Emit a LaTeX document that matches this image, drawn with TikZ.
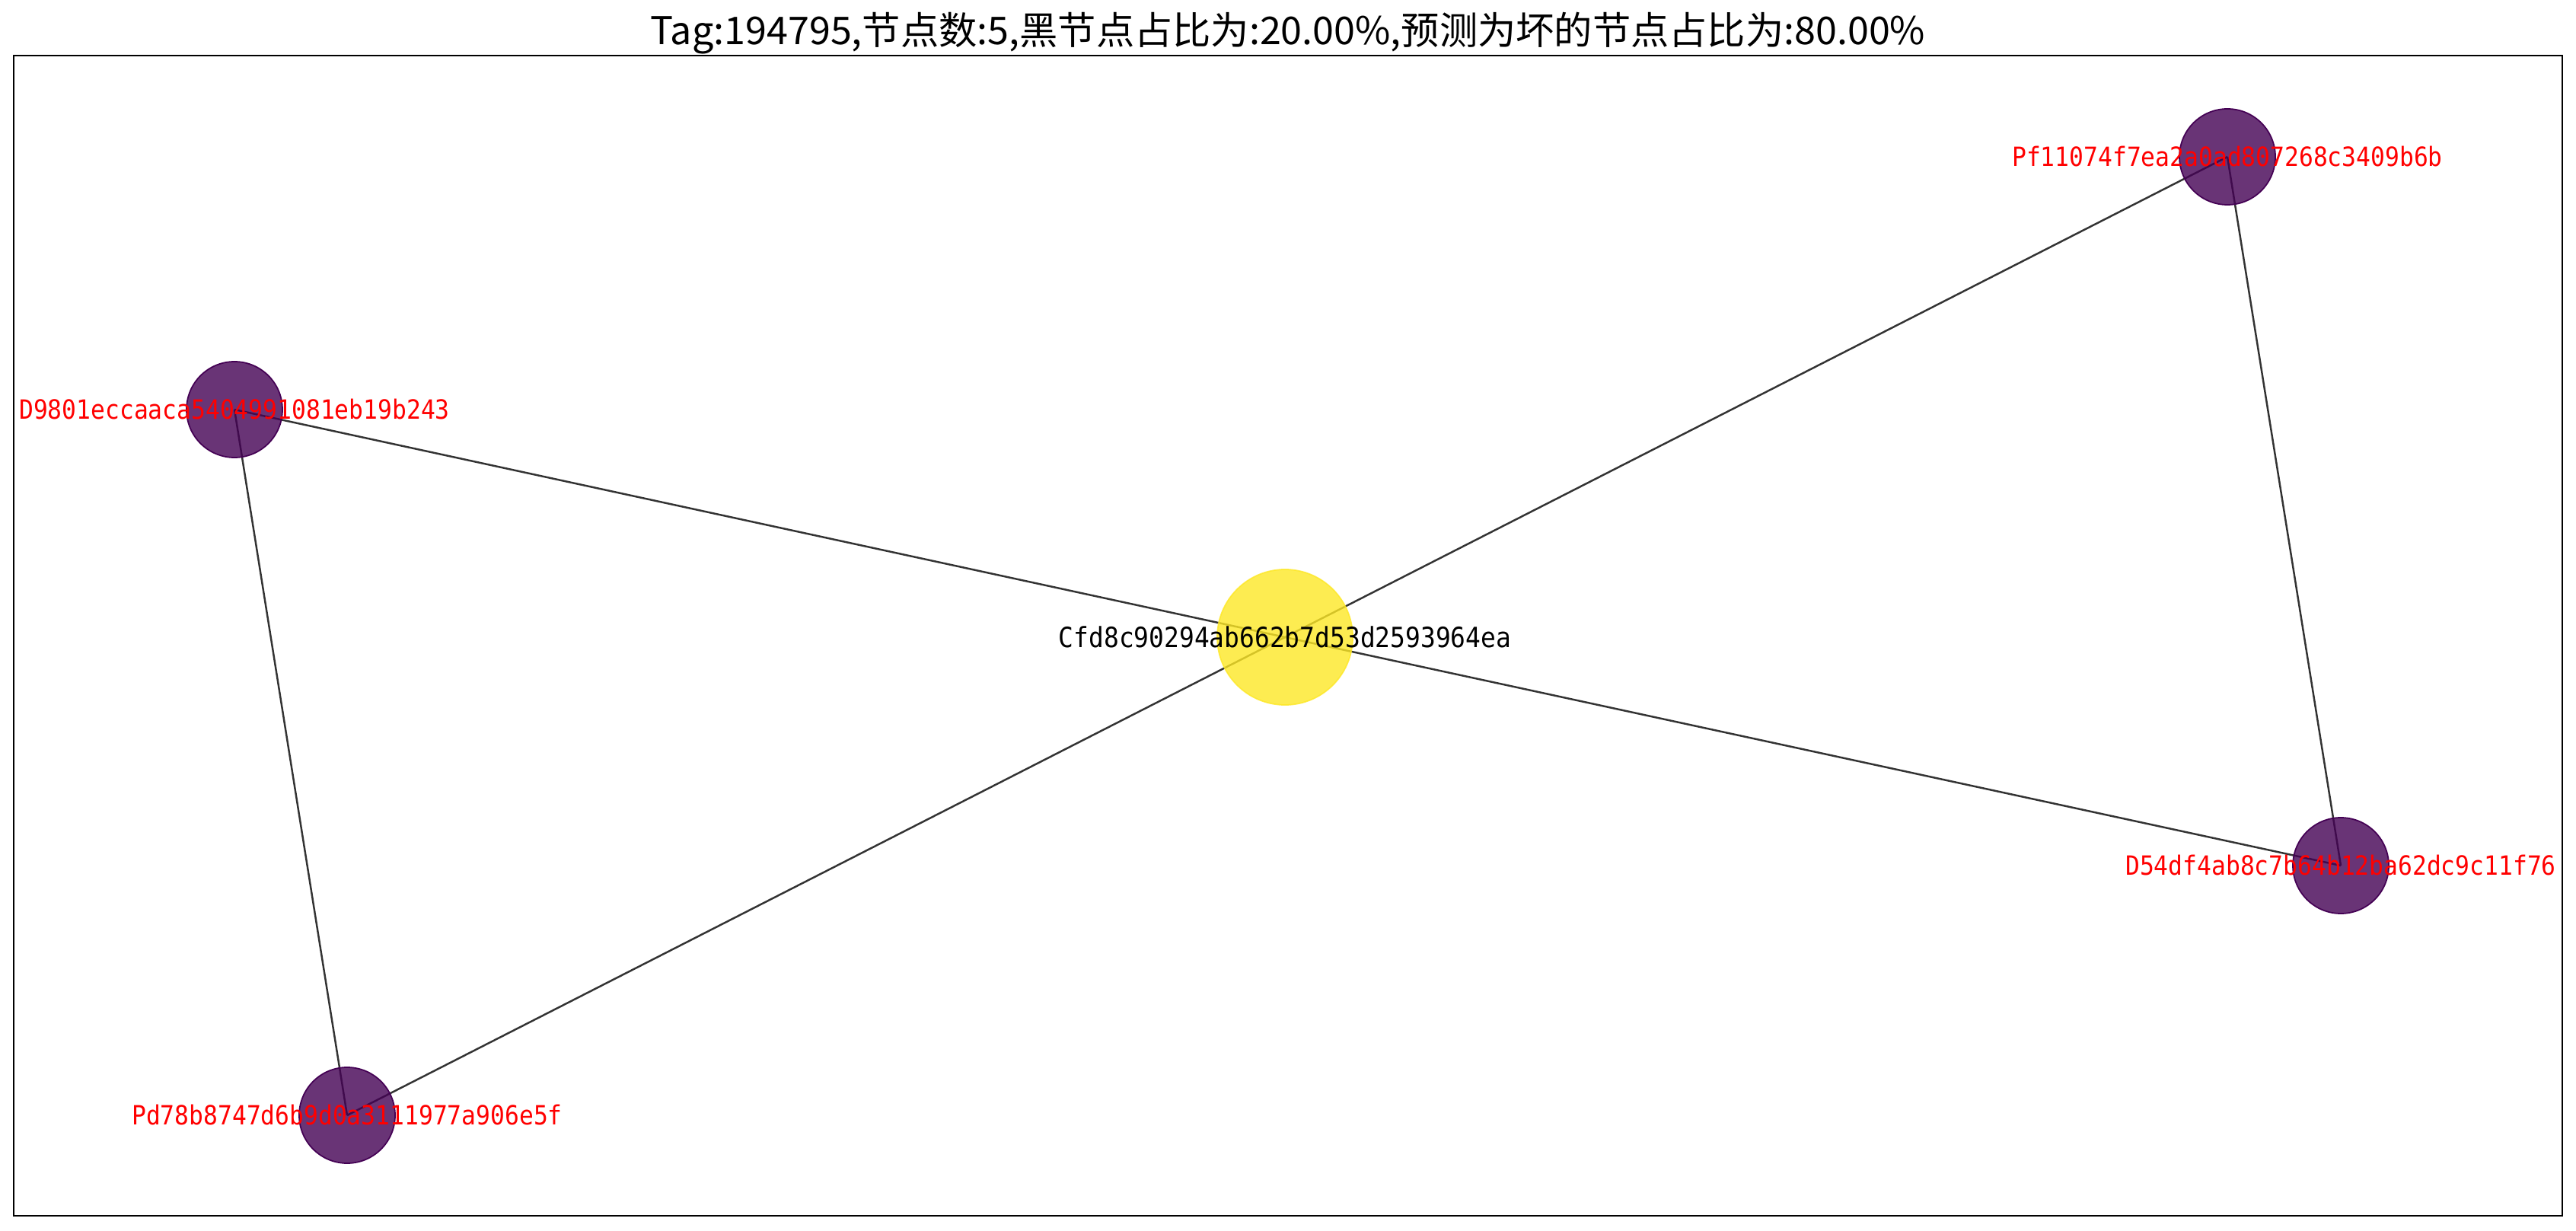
\documentclass[tikz,border=0pt]{standalone}
\usepackage{fontspec}
\usepackage{xcolor}
\newfontfamily\cjk{Noto Sans CJK SC}
\newfontfamily\hexfont[FakeStretch=0.9]{DejaVu Sans Mono}
\definecolor{vpurple}{RGB}{68,1,84}
\definecolor{vyellow}{RGB}{253,231,37}
\tikzset{
  hexlabel/.style={font=\fontsize{9.9}{10}\hexfont, text=red}
}

\begin{document}
\begin{tikzpicture}[line width=0.7pt,
    main/.style = {circle, inner sep=0pt, minimum size=1.26cm, fill opacity=0.8, line width=0.5pt},
    bad/.style = {main, fill=vpurple, draw=vpurple},
    good/.style = {main, fill=vyellow, draw=vyellow, draw opacity=0.8, minimum size=1.78cm},
    link/.style = {black!80, line width=0.7pt}]
      \useasboundingbox (0,0) rectangle (33.84,16.16);
      \draw[line width=0.65pt] (0.18,0.19) rectangle (33.66,15.43);
      \node (title) at (16.92,15.72) {\fontsize{14.3}{16}\cjk Tag:194795,节点数:5,黑节点占比为:20.00\%,预测为坏的节点占比为:80.00\%};

      \coordinate (1) at (16.88,7.79);
      \coordinate (2) at (3.08,10.78);
      \coordinate (3) at (29.26,14.10);
      \coordinate (4) at (30.75,4.79);
      \coordinate (5) at (4.56,1.51);

      \path[link]
      (1) edge (2)
      (1) edge (3)
      (1) edge (4)
      (1) edge (5)
      (2) edge (5)
      (3) edge (4)
      ;

      \node[good] (n1) at (1) {};
      \node[bad] (n2) at (2) {};
      \node[bad] (n3) at (3) {};
      \node[bad] (n4) at (4) {};
      \node[bad] (n5) at (5) {};

      \node[hexlabel, text=black, font=\fontsize{10.4}{11}\hexfont] at (n1) {Cfd8c90294ab662b7d53d2593964ea};
      \node[hexlabel] at (n2) {D9801eccaaca5404991081eb19b243};
      \node[hexlabel] at (n3) {Pf11074f7ea2a0ad807268c3409b6b};
      \node[hexlabel] at (n4) {D54df4ab8c7b64b12ba62dc9c11f76};
      \node[hexlabel] at (n5) {Pd78b8747d6b9d0a3111977a906e5f};
    \end{tikzpicture}
\end{document}
